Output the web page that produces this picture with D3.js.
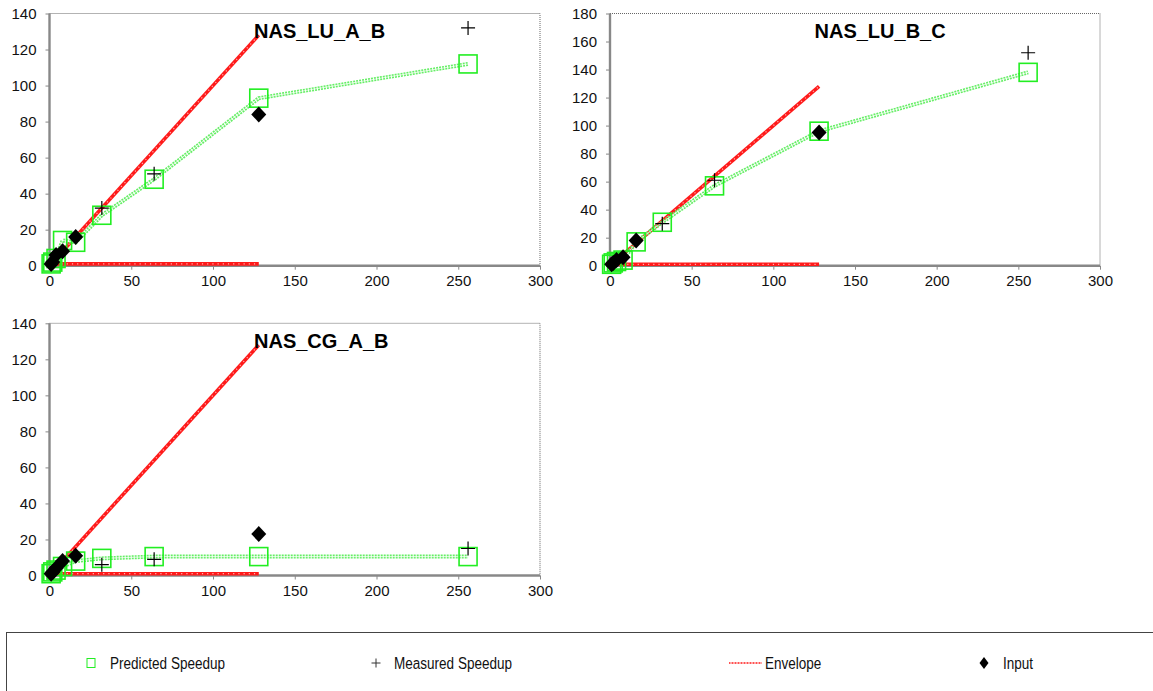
<!DOCTYPE html>
<html>
<head>
<meta charset="utf-8">
<script src="https://cdn.jsdelivr.net/npm/d3@7"></script>
<style>
  html, body { margin: 0; padding: 0; background: #fff; }
  svg { display: block; font-family: "Liberation Sans", Arial, sans-serif; }
</style>
</head>
<body>
<svg id="chart" width="1153" height="691"></svg>
<script>
// Processor counts shared by every benchmark
const procs = [1, 2, 4, 8, 16, 32, 64, 128, 256];
const measuredProcs = [32, 64, 256];
const inputProcs = [1, 2, 4, 8, 16, 128];

// Benchmark names
const benchmarks = ["NAS_LU_A_B", "NAS_LU_B_C", "NAS_CG_A_B"];

// Predicted speedup (one value per entry of procs)
const predLUAB = [1, 2, 4, 14, 13, 28, 48, 93, 112];
const predLUBC = [1, 2, 3, 4, 17, 31, 57, 96, 138];
const predCGAB = [1, 2, 3, 5, 8, 9.5, 10.5, 10.5, 10.5];

// Measured speedup (one value per entry of measuredProcs)
const measLUAB = [32, 51, 132];
const measLUBC = [30, 61, 152];
const measCGAB = [6, 9, 15];

// Input speedup (one value per entry of inputProcs)
const inLUAB = [1, 2, 6, 8, 16, 84];
const inLUBC = [1, 2, 4, 6, 18, 95];
const inCGAB = [1, 2, 4, 8, 11, 23];

// Speedup envelope: ideal linear bound and unit lower bound
const envX = [1, 128];
const envUpper = [1, 128];
const envLower = [1, 1];

// Axis ticks
const xTicks = [0, 50, 100, 150, 200, 250, 300];
const yTicks140 = [0, 20, 40, 60, 80, 100, 120, 140];
const yTicks180 = [0, 20, 40, 60, 80, 100, 120, 140, 160, 180];

// Legend entries
const legendLabels = ["Predicted Speedup", "Measured Speedup", "Envelope", "Input"];

const panels = [
  { name: benchmarks[0], pred: predLUAB, meas: measLUAB, inp: inLUAB, yMax: 140, yTicks: yTicks140,
    box: { left: 49.5, right: 540, top: 13.5, bottom: 265.7 } },
  { name: benchmarks[1], pred: predLUBC, meas: measLUBC, inp: inLUBC, yMax: 180, yTicks: yTicks180,
    box: { left: 610, right: 1100, top: 13.5, bottom: 265.7 } },
  { name: benchmarks[2], pred: predCGAB, meas: measCGAB, inp: inCGAB, yMax: 140, yTicks: yTicks140,
    box: { left: 49.5, right: 540, top: 323.3, bottom: 575.5 } }
];

const svg = d3.select("#chart");
const GREEN = "#22ee22";
const GREEN_LINE = "#66ee66";
const RED = "#ff1a1a";
const AXIS = "#888";

function drawDoubleLine(g, data, line, color, width, dash) {
  g.append("path").datum(data).attr("d", line)
    .attr("fill", "none").attr("stroke", color).attr("stroke-width", width)
    .attr("stroke-dasharray", dash);
  g.append("path").datum(data).attr("d", line)
    .attr("fill", "none").attr("stroke", "#fff").attr("stroke-width", 1)
    .attr("stroke-opacity", 0.75);
}

panels.forEach(p => {
  const b = p.box;
  const x = d3.scaleLinear().domain([0, 300]).range([b.left, b.right]);
  const y = d3.scaleLinear().domain([0, p.yMax]).range([b.bottom, b.top]);
  const g = svg.append("g");

  // dotted frame on top and right
  g.append("path")
    .attr("d", `M${b.left},${b.top}H${b.right}V${b.bottom}`)
    .attr("fill", "none").attr("stroke", "#666").attr("stroke-width", 1)
    .attr("stroke-dasharray", "1,1");

  // axes
  const xAxis = d3.axisBottom(x).tickValues(xTicks).tickSize(4).tickPadding(6);
  const yAxis = d3.axisLeft(y).tickValues(p.yTicks).tickSize(4).tickPadding(9);
  const gx = g.append("g").attr("transform", `translate(0,${b.bottom})`).call(xAxis);
  const gy = g.append("g").attr("transform", `translate(${b.left},0)`).call(yAxis);
  [gx, gy].forEach(ax => {
    ax.select(".domain").attr("stroke", AXIS).attr("stroke-width", 2.4);
    ax.selectAll(".tick line").attr("stroke", AXIS).attr("stroke-width", 1);
    ax.selectAll(".tick text").attr("fill", "#111")
      .style("font-size", "15px").style("font-family", "'Liberation Sans', Arial, sans-serif");
  });
  gx.select(".domain").attr("d", `M${b.left},0H${b.right}`);
  gy.select(".domain").attr("d", `M0,${b.bottom}V${b.top}`);

  const line = d3.line().x(d => x(d[0])).y(d => y(d[1]));

  // envelope
  const upper = envX.map((v, i) => [v, envUpper[i]]);
  const lower = envX.map((v, i) => [v, envLower[i]]);
  [upper, lower].forEach(d => {
    g.append("path").datum(d).attr("d", line)
      .attr("fill", "none").attr("stroke", RED).attr("stroke-width", 3.6);
    g.append("path").datum(d).attr("d", line)
      .attr("fill", "none").attr("stroke", "#ffb0b0").attr("stroke-width", 1.2)
      .attr("stroke-dasharray", "1.2,4");
  });

  // predicted speedup line and squares
  const predData = procs.map((v, i) => [v, p.pred[i]]);
  drawDoubleLine(g, predData, line, GREEN_LINE, 4, "2,1");
  const sq = 18;
  g.selectAll(".pred").data(predData).join("rect")
    .attr("x", d => x(d[0]) - sq / 2).attr("y", d => y(d[1]) - sq / 2)
    .attr("width", sq).attr("height", sq)
    .attr("fill", "none").attr("stroke", GREEN).attr("stroke-width", 1.6);

  // measured speedup crosses
  const measData = measuredProcs.map((v, i) => [v, p.meas[i]]);
  g.selectAll(".meas").data(measData).join("path")
    .attr("transform", d => `translate(${x(d[0])},${y(d[1])})`)
    .attr("d", "M-7,0H7M0,-7V7")
    .attr("stroke", "#000").attr("stroke-width", 1.2).attr("fill", "none");

  // input diamonds
  const inData = inputProcs.map((v, i) => [v, p.inp[i]]);
  g.selectAll(".inp").data(inData).join("path")
    .attr("transform", d => `translate(${x(d[0])},${y(d[1])})`)
    .attr("d", "M0,-8L7.5,0L0,8L-7.5,0Z")
    .attr("fill", "#000");

  // benchmark title
  g.append("text")
    .attr("x", b.left + 204.5).attr("y", b.top + 24.5)
    .attr("font-size", 20).attr("font-weight", "bold").attr("fill", "#000")
    .text(p.name);
});

// Legend
const lg = svg.append("g");
lg.append("rect").attr("x", 6.5).attr("y", 632.5).attr("width", 1160).attr("height", 100)
  .attr("fill", "#fff").attr("stroke", "#444").attr("stroke-width", 1);
const ly = 663;
const legendX = [87, 376, 729, 984];
const textX = [110, 394, 765, 1003];
// symbols
lg.append("rect").attr("x", legendX[0]).attr("y", ly - 4.5).attr("width", 8).attr("height", 9)
  .attr("fill", "none").attr("stroke", GREEN).attr("stroke-width", 1);
lg.append("path").attr("d", `M${legendX[1] - 4.5},${ly}H${legendX[1] + 4.5}M${legendX[1]},${ly - 4.5}V${ly + 4.5}`)
  .attr("stroke", "#333").attr("stroke-width", 1);
lg.append("line").attr("x1", legendX[2]).attr("x2", legendX[2] + 33).attr("y1", ly).attr("y2", ly)
  .attr("stroke", RED).attr("stroke-width", 1.6).attr("stroke-dasharray", "1,0.5");
lg.append("path").attr("d", `M${legendX[3]},${ly - 6}L${legendX[3] + 4.5},${ly}L${legendX[3]},${ly + 6}L${legendX[3] - 4.5},${ly}Z`)
  .attr("fill", "#000");
legendLabels.forEach((t, i) => {
  lg.append("text")
    .attr("transform", `translate(${textX[i]},${ly + 5.5}) scale(0.82,1)`)
    .attr("font-size", 16.5).attr("fill", "#111")
    .text(t);
});
</script>
</body>
</html>
